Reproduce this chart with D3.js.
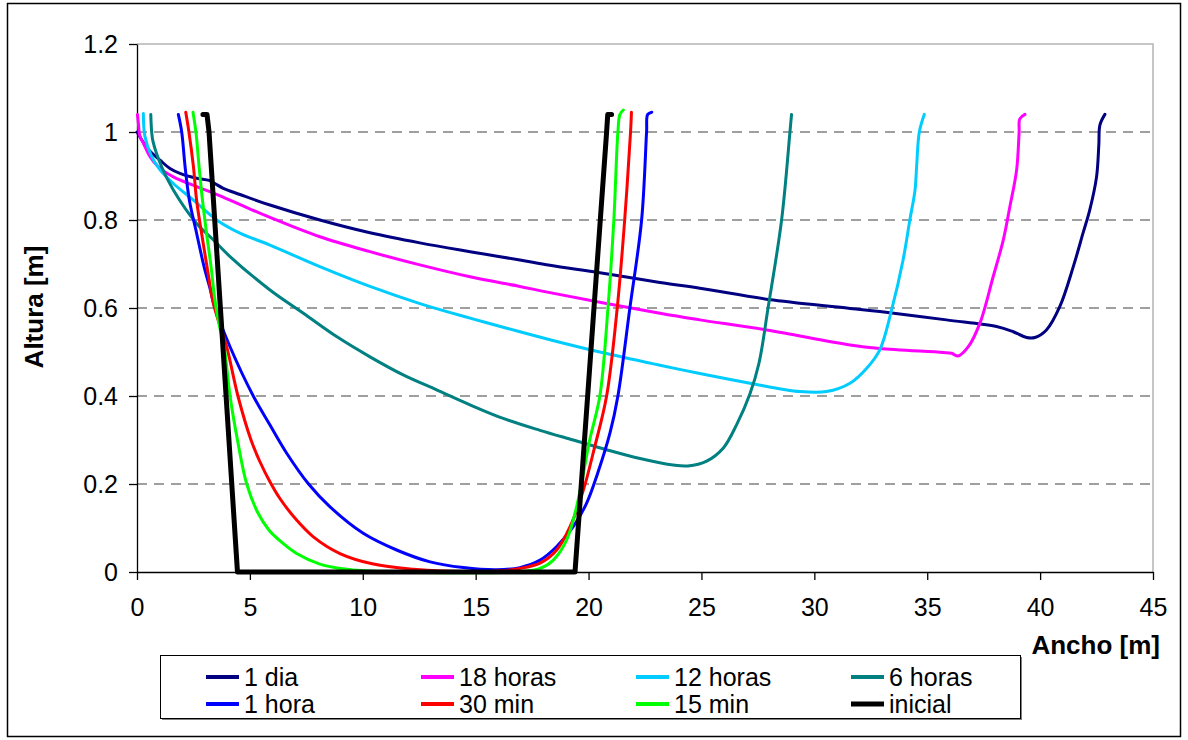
<!DOCTYPE html>
<html>
<head>
<meta charset="utf-8">
<script src="https://cdn.jsdelivr.net/npm/d3@7"></script>
<style>
  body { margin: 0; background: #fff; }
  svg text { font-family: "Liberation Sans", Arial, sans-serif; fill: #000; }
</style>
</head>
<body>
<div id="chart"></div>
<script>
// series names, in legend order
const seriesNames = ['1 dia', '18 horas', '12 horas', '6 horas', '1 hora', '30 min', '15 min', 'inicial'];
const seriesColors = ['#000080', '#ff00ff', '#00ccff', '#008080', '#0000ff', '#ff0000', '#00ff00', '#000000'];

// [ancho, altura] pairs
const dia = [[0.0,1.0],[0.3,0.975],[0.6,0.955],[1.02,0.936],[1.46,0.917],[1.9,0.906],[2.64,0.895],[3.2,0.89],[3.45,0.883],[3.82,0.872],[4.56,0.858],[5.89,0.834],[8.1,0.8],[10.32,0.771],[12.53,0.748],[14.75,0.728],[16.96,0.709],[18.29,0.697],[20.5,0.68],[23.16,0.658],[24.93,0.645],[28.18,0.618],[31.58,0.599],[32.9,0.592],[35.85,0.573],[38.07,0.558],[38.81,0.546],[39.4,0.533],[39.77,0.533],[40.28,0.55],[40.87,0.603],[41.47,0.694],[41.9,0.77],[42.2,0.823],[42.5,0.898],[42.6,0.97],[42.65,1.016],[42.87,1.04]];
const horas18 = [[0.02,1.04],[0.06,1.02],[0.13,0.99],[0.28,0.975],[0.58,0.944],[0.94,0.921],[1.61,0.898],[2.64,0.876],[3.68,0.855],[4.7,0.832],[5.89,0.806],[8.1,0.762],[10.32,0.728],[12.53,0.698],[14.75,0.671],[16.96,0.649],[18.29,0.635],[23.16,0.588],[24.93,0.573],[27.89,0.55],[31.58,0.516],[32.9,0.508],[35.7,0.499],[36.08,0.497],[36.37,0.491],[36.82,0.512],[37.33,0.565],[37.92,0.671],[38.37,0.755],[38.66,0.83],[38.96,0.914],[39.07,1.0],[39.1,1.03],[39.33,1.04]];
const horas12 = [[0.28,1.042],[0.35,0.99],[0.65,0.944],[1.02,0.914],[1.61,0.883],[2.5,0.845],[3.53,0.8],[4.56,0.77],[5.89,0.743],[8.1,0.694],[10.32,0.649],[12.53,0.61],[14.75,0.577],[16.96,0.546],[18.29,0.528],[20.5,0.5],[23.16,0.47],[24.93,0.451],[27.15,0.429],[29.36,0.41],[30.54,0.41],[31.58,0.429],[32.3,0.462],[32.9,0.505],[33.42,0.595],[33.93,0.709],[34.23,0.8],[34.46,0.868],[34.53,0.921],[34.65,1.0],[34.87,1.04]];
const horas6 = [[0.61,1.04],[0.65,1.0],[0.71,0.978],[1.09,0.921],[1.61,0.868],[2.64,0.792],[3.38,0.755],[4.12,0.717],[5.89,0.641],[7.37,0.588],[8.84,0.535],[10.32,0.489],[11.79,0.448],[13.27,0.414],[14.75,0.38],[16.22,0.349],[17.85,0.322],[19.32,0.3],[20.8,0.278],[22.28,0.258],[23.75,0.243],[24.4,0.241],[25.23,0.252],[25.97,0.282],[26.56,0.335],[27.15,0.405],[27.55,0.475],[27.95,0.6],[28.55,0.8],[28.92,1.0],[28.99,1.04]];
const hora1 = [[1.83,1.04],[1.98,1.0],[2.13,0.921],[2.32,0.845],[2.64,0.77],[2.97,0.694],[3.23,0.645],[3.45,0.6],[4.12,0.512],[5.15,0.4],[5.89,0.334],[6.63,0.27],[7.6,0.2],[8.55,0.148],[10.02,0.088],[11.5,0.05],[12.98,0.023],[14.45,0.01],[15.93,0.005],[16.96,0.01],[17.85,0.027],[18.59,0.058],[19.32,0.103],[19.91,0.156],[20.4,0.224],[20.95,0.316],[21.3,0.4],[21.83,0.6],[22.35,0.8],[22.57,1.0],[22.62,1.04],[22.8,1.045]];
const min30 = [[2.16,1.045],[2.3,1.0],[2.5,0.921],[2.64,0.845],[2.86,0.77],[3.1,0.694],[3.35,0.618],[3.55,0.58],[3.97,0.512],[4.47,0.4],[5.05,0.3],[5.45,0.25],[5.9,0.204],[6.33,0.167],[7.07,0.118],[7.81,0.08],[8.99,0.042],[10.47,0.018],[12.24,0.006],[13.5,0.002],[16.0,0.002],[16.96,0.008],[17.85,0.02],[18.59,0.05],[19.18,0.103],[19.77,0.186],[20.25,0.28],[20.8,0.4],[21.27,0.6],[21.6,0.8],[21.86,1.0],[21.9,1.045]];
const min15 = [[2.48,1.045],[2.61,1.0],[2.75,0.921],[2.9,0.845],[3.08,0.77],[3.28,0.694],[3.45,0.618],[3.65,0.56],[3.86,0.512],[4.12,0.4],[4.45,0.3],[4.86,0.2],[5.36,0.134],[5.85,0.095],[6.4,0.068],[7.07,0.042],[8.1,0.018],[9.29,0.006],[10.76,0.001],[17.0,0.001],[17.85,0.008],[18.44,0.027],[19.03,0.073],[19.47,0.148],[19.77,0.224],[20.05,0.3],[20.5,0.4],[20.86,0.6],[21.12,0.8],[21.3,1.0],[21.39,1.04],[21.54,1.05]];
const inicial = [[2.92,1.04],[3.1,1.04],[3.19,1.0],[4.45,0],[19.4,0],[20.8,1.0],[20.85,1.04],[21.02,1.04]];

const xTicks = [0, 5, 10, 15, 20, 25, 30, 35, 40, 45];
const yTicks = [0, 0.2, 0.4, 0.6, 0.8, 1, 1.2];

const allSeries = [dia, horas18, horas12, horas6, hora1, min30, min15, inicial];

const w = 1188;
const h = 740;
const plot = { left: 137, right: 1153, top: 44, bottom: 572 };

const svg = d3.select('#chart').append('svg')
  .attr('width', w)
  .attr('height', h);

// outer frame
svg.append('rect')
  .attr('x', 7.5).attr('y', 3.5)
  .attr('width', 1173).attr('height', 733)
  .attr('fill', 'none').attr('stroke', '#000').attr('stroke-width', 1.5);

const x = d3.scaleLinear().domain([0, 45]).range([plot.left, plot.right]);
const y = d3.scaleLinear().domain([0, 1.2]).range([plot.bottom, plot.top]);

// plot border (top and right only, light gray)
svg.append('path')
  .attr('d', 'M' + plot.left + ',' + plot.top + 'H' + plot.right + 'V' + plot.bottom)
  .attr('fill', 'none').attr('stroke', '#b4b4b4').attr('stroke-width', 1.5);

// dashed gridlines
svg.append('g').selectAll('line')
  .data(yTicks.filter(d => d > 0 && d < 1.2))
  .enter().append('line')
  .attr('x1', plot.left).attr('x2', plot.right)
  .attr('y1', d => y(d)).attr('y2', d => y(d))
  .attr('stroke', '#404040').attr('stroke-width', 1.2)
  .attr('stroke-dasharray', '10,7');

const xAxis = d3.axisBottom(x)
  .tickValues(xTicks)
  .tickSize(8)
  .tickSizeOuter(0)
  .tickPadding(18)
  .tickFormat(d3.format('d'));

const yAxis = d3.axisLeft(y)
  .tickValues(yTicks)
  .tickSize(8)
  .tickSizeOuter(0)
  .tickPadding(11)
  .tickFormat(d => d === 0 || d === 1 ? String(d) : d3.format('.1f')(d));

const gx = svg.append('g')
  .attr('transform', 'translate(0,' + plot.bottom + ')')
  .call(xAxis);
const gy = svg.append('g')
  .attr('transform', 'translate(' + plot.left + ',0)')
  .call(yAxis);

[gx, gy].forEach(g => {
  g.selectAll('path, line').attr('stroke', '#000').attr('stroke-width', 1.3);
  g.selectAll('text')
    .style('font-family', '"Liberation Sans", Arial, sans-serif')
    .style('font-size', '25px')
    .attr('fill', '#000');
});

// axis titles
svg.append('text')
  .attr('x', 1160).attr('y', 654)
  .attr('text-anchor', 'end')
  .style('font-size', '26px').style('font-weight', 'bold')
  .text('Ancho [m]');

svg.append('text')
  .attr('transform', 'translate(43,' + 307 + ') rotate(-90)')
  .attr('text-anchor', 'middle')
  .style('font-size', '26px').style('font-weight', 'bold')
  .text('Altura [m]');

// series lines
const line = d3.line()
  .x(d => x(d[0]))
  .y(d => y(d[1]))
  .curve(d3.curveCatmullRom.alpha(0.5));

const lineStraight = d3.line()
  .x(d => x(d[0]))
  .y(d => y(d[1]));

svg.append('g').selectAll('path')
  .data(allSeries)
  .enter().append('path')
  .attr('d', (d, i) => i === 7 ? lineStraight(d) : line(d))
  .attr('fill', 'none')
  .attr('stroke', (d, i) => seriesColors[i])
  .attr('stroke-width', (d, i) => i === 7 ? 5 : 3)
  .attr('stroke-linejoin', 'round')
  .attr('stroke-linecap', 'round');

// legend
const legend = svg.append('g');
legend.append('rect')
  .attr('x', 162).attr('y', 657)
  .attr('width', 860).attr('height', 63)
  .attr('fill', '#808080');
legend.append('rect')
  .attr('x', 160.5).attr('y', 655.5)
  .attr('width', 860).attr('height', 63)
  .attr('fill', '#fff').attr('stroke', '#000').attr('stroke-width', 1);

const item = legend.selectAll('g.item')
  .data(seriesNames)
  .enter().append('g')
  .attr('class', 'item')
  .attr('transform', (d, i) => 'translate(' + (206 + (i % 4) * 215) + ',' + (677 + Math.floor(i / 4) * 27) + ')');

item.append('line')
  .attr('x1', 0).attr('x2', 33)
  .attr('y1', 0).attr('y2', 0)
  .attr('stroke', (d, i) => seriesColors[i])
  .attr('stroke-width', (d, i) => i === 7 ? 5 : 4);

item.append('text')
  .attr('x', 38).attr('y', 0)
  .attr('dy', '0.35em')
  .style('font-size', '25px')
  .text(d => d);
</script>
</body>
</html>
